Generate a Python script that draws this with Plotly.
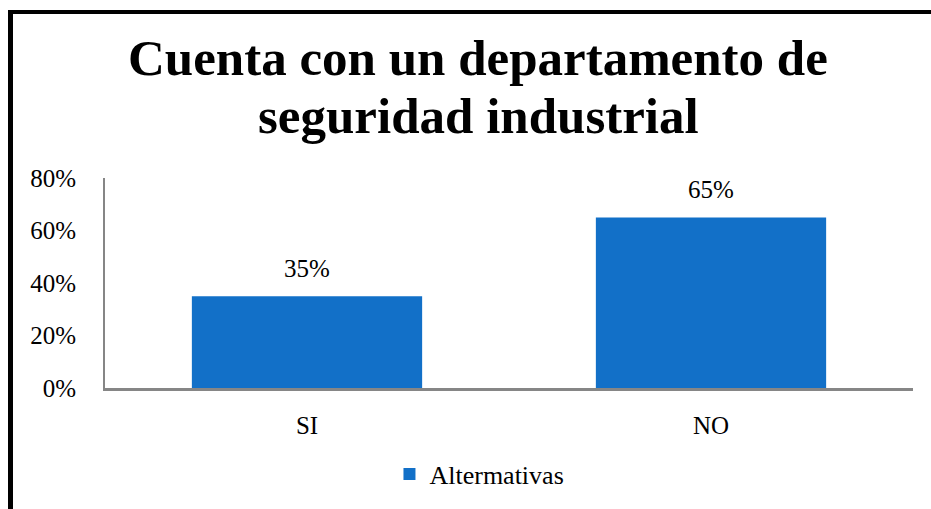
import plotly.graph_objects as go

categories = ["SI", "NO"]
values = [0.35, 0.65]
series_name = "Altermativas"
title_lines = ["Cuenta con un departamento de", "seguridad industrial"]

W, H = 931, 509
L, R, T, B = 105, 18, 178, 121
pw, ph = W - L - R, H - T - B

def px_x(p):
    return (p - L) / pw

def px_y(p):
    return (H - B - p) / ph

font_family = "Liberation Serif, DejaVu Serif, serif"

fig = go.Figure()
fig.add_trace(go.Bar(
    x=categories, y=values, name=series_name,
    marker=dict(color="#1270C8", line=dict(width=0)),
))

# data labels
for c, v in zip(categories, values):
    fig.add_annotation(x=c, y=v, xref="x", yref="y", text=f"{v:.0%}",
                       showarrow=False, yanchor="bottom", yshift=12,
                       font=dict(size=25, color="#000000", family=font_family))

# title lines
for txt, yc in zip(title_lines, [58, 116]):
    fig.add_annotation(x=px_x(478), xref="paper", y=px_y(yc), yref="paper",
                       text=f"<b>{txt}</b>", showarrow=False,
                       xanchor="center", yanchor="middle",
                       font=dict(size=51, color="#000000", family=font_family))

fig.update_layout(
    width=W, height=H,
    margin=dict(l=L, r=R, t=T, b=B),
    paper_bgcolor="white", plot_bgcolor="white",
    bargap=0.43,
    showlegend=True,
    legend=dict(orientation="h", x=0.515, xanchor="center", xref="container",
                y=(H - 474) / H, yref="container", yanchor="middle",
                font=dict(size=26, color="#000000", family=font_family),
                itemwidth=30),
    font=dict(family=font_family, color="#000000"),
)
fig.update_yaxes(range=[0, 0.8], dtick=0.2, tickformat=".0%", showgrid=False,
                 showline=True, linecolor="#868686", linewidth=2,
                 ticks="", ticklabelstandoff=22,
                 tickfont=dict(size=25, color="#000000", family=font_family),
                 zeroline=False)
fig.update_xaxes(showline=True, linecolor="#868686", linewidth=3, ticks="",
                 ticklabelstandoff=13,
                 tickfont=dict(size=25, color="#000000", family=font_family))

# outer border (left and top)
fig.add_shape(type="line", xref="paper", yref="paper",
              x0=px_x(10.5), x1=px_x(10.5), y0=px_y(10), y1=px_y(H + 5),
              line=dict(color="black", width=5))
fig.add_shape(type="line", xref="paper", yref="paper",
              x0=px_x(8), x1=px_x(W + 5), y0=px_y(12), y1=px_y(12),
              line=dict(color="black", width=4))

fig.write_html("out.html", config={"displayModeBar": False})

with open("out.html", "r", encoding="utf-8") as f:
    html = f.read()
html = html.replace("<head>", "<head><style>html,body{margin:0;padding:0;overflow:hidden;}</style>", 1)
with open("out.html", "w", encoding="utf-8") as f:
    f.write(html)
